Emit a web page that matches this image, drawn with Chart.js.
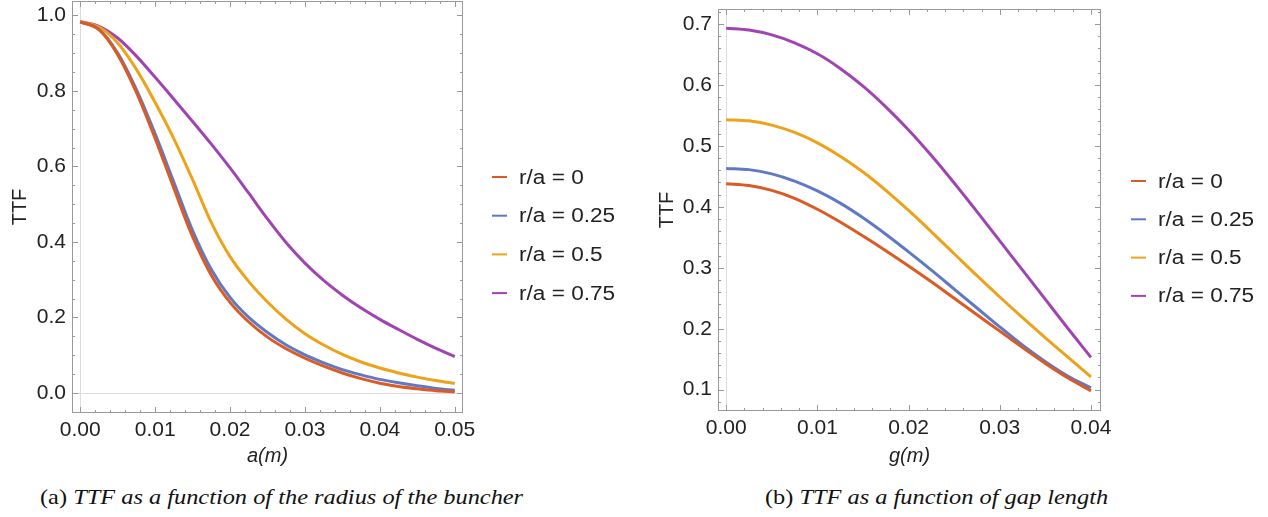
<!DOCTYPE html>
<html>
<head>
<meta charset="utf-8">
<script src="https://cdn.jsdelivr.net/npm/chart.js@4.4.1/dist/chart.umd.min.js"></script>
<style>
  body { margin: 0; background: #fff; width: 1268px; height: 517px; position: relative; overflow: hidden; }
  .box { position: absolute; top: 0; height: 470px; }
  #boxA { left: 0; width: 640px; }
  #boxB { left: 640px; width: 628px; }
  .cap { position: absolute; top: 485px; font-family: "Liberation Serif", "DejaVu Serif", serif; font-size: 21px; color: #111;
         white-space: nowrap; transform: scaleX(1.16); transform-origin: 0 0; }
</style>
</head>
<body>
<div class="box" id="boxA"><canvas id="chartA" width="640" height="470"></canvas></div>
<div class="box" id="boxB"><canvas id="chartB" width="628" height="470"></canvas></div>
<div class="cap" style="left:40px">(a) <i>TTF as a function of the radius of the buncher</i></div>
<div class="cap" style="left:765px">(b) <i>TTF as a function of gap length</i></div>
<script>
// (a) TTF vs radius a (m)
const radiusA = [0, 0.0025, 0.005, 0.0075, 0.01, 0.0125, 0.015, 0.0175, 0.02, 0.0225, 0.025,
                 0.0275, 0.03, 0.0325, 0.035, 0.0375, 0.04, 0.0425, 0.045, 0.0475, 0.05];
const ttfA_r0   = [0.983, 0.962, 0.896, 0.796, 0.674, 0.542, 0.414, 0.312, 0.240, 0.188, 0.148,
                   0.117, 0.092, 0.071, 0.053, 0.038, 0.026, 0.017, 0.011, 0.006, 0.003];
const ttfA_r025 = [0.983, 0.963, 0.900, 0.803, 0.686, 0.558, 0.430, 0.327, 0.253, 0.200, 0.160,
                   0.127, 0.101, 0.080, 0.062, 0.048, 0.036, 0.027, 0.019, 0.012, 0.007];
const ttfA_r05  = [0.983, 0.969, 0.927, 0.857, 0.769, 0.673, 0.565, 0.451, 0.361, 0.295, 0.241,
                   0.195, 0.157, 0.127, 0.102, 0.082, 0.066, 0.053, 0.042, 0.033, 0.025];
const ttfA_r075 = [0.983, 0.971, 0.940, 0.892, 0.836, 0.778, 0.719, 0.659, 0.596, 0.529, 0.461,
                   0.398, 0.344, 0.298, 0.259, 0.225, 0.195, 0.168, 0.142, 0.118, 0.096];

// (b) TTF vs gap length g (m)
const gapB = [0, 0.0025, 0.005, 0.0075, 0.01, 0.0125, 0.015, 0.0175, 0.02,
              0.0225, 0.025, 0.0275, 0.03, 0.0325, 0.035, 0.0375, 0.04];
const ttfB_r0   = [0.438, 0.435, 0.427, 0.414, 0.396, 0.375, 0.352, 0.328, 0.303,
                   0.277, 0.250, 0.223, 0.196, 0.169, 0.143, 0.119, 0.098];
const ttfB_r025 = [0.463, 0.461, 0.454, 0.442, 0.426, 0.406, 0.382, 0.355, 0.326,
                   0.296, 0.265, 0.234, 0.203, 0.173, 0.146, 0.122, 0.103];
const ttfB_r05  = [0.543, 0.541, 0.534, 0.522, 0.505, 0.483, 0.457, 0.427, 0.394,
                   0.359, 0.323, 0.287, 0.252, 0.218, 0.185, 0.153, 0.121];
const ttfB_r075 = [0.693, 0.690, 0.682, 0.669, 0.651, 0.627, 0.598, 0.564, 0.526,
                   0.484, 0.439, 0.392, 0.344, 0.296, 0.248, 0.200, 0.153];

const seriesNames = ['r/a = 0', 'r/a = 0.25', 'r/a = 0.5', 'r/a = 0.75'];
const seriesColors = ['#dc5a23', '#5f79c6', '#eda21b', '#a044b2'];

const xTicksA = [0, 0.01, 0.02, 0.03, 0.04, 0.05];
const yTicksA = [0, 0.2, 0.4, 0.6, 0.8, 1.0];
const xTicksB = [0, 0.01, 0.02, 0.03, 0.04];
const yTicksB = [0.1, 0.2, 0.3, 0.4, 0.5, 0.6, 0.7];

Chart.defaults.font.family = '"Liberation Sans", Arial, sans-serif';
Chart.defaults.color = '#222';

// frame with inward ticks (Mathematica style) and the zero axis lines
const framePlugin = {
  id: 'frame',
  beforeDatasetsDraw(chart, args, o) {
    const {ctx, chartArea: a, scales: {x, y}} = chart;
    ctx.save();
    ctx.lineWidth = 1;
    ctx.strokeStyle = '#dcdcdc';
    if (x.min <= 0 && x.max >= 0) {
      const px = Math.round(x.getPixelForValue(0)) + 0.5;
      ctx.beginPath(); ctx.moveTo(px, a.top); ctx.lineTo(px, a.bottom); ctx.stroke();
    }
    if (y.min <= 0 && y.max >= 0) {
      const py = Math.round(y.getPixelForValue(0)) + 0.5;
      ctx.beginPath(); ctx.moveTo(a.left, py); ctx.lineTo(a.right, py); ctx.stroke();
    }
    ctx.strokeStyle = '#999';
    ctx.strokeRect(a.left + 0.5, a.top + 0.5, a.width - 1, a.height - 1);
    ctx.beginPath();
    const tickX = (v, len) => {
      const px = Math.round(x.getPixelForValue(v)) + 0.5;
      ctx.moveTo(px, a.bottom); ctx.lineTo(px, a.bottom - len);
      ctx.moveTo(px, a.top); ctx.lineTo(px, a.top + len);
    };
    const tickY = (v, len) => {
      const py = Math.round(y.getPixelForValue(v)) + 0.5;
      ctx.moveTo(a.left, py); ctx.lineTo(a.left + len, py);
      ctx.moveTo(a.right, py); ctx.lineTo(a.right - len, py);
    };
    for (let i = Math.ceil(x.min / o.xMinor); i * o.xMinor <= x.max; i++) tickX(i * o.xMinor, 3);
    for (let i = Math.ceil(y.min / o.yMinor); i * o.yMinor <= y.max; i++) tickY(i * o.yMinor, 3);
    x.ticks.forEach(t => tickX(t.value, 6));
    y.ticks.forEach(t => tickY(t.value, 6));
    ctx.stroke();
    ctx.restore();
  }
};

// legend to the right of the frame: short line + label
const sideLegend = {
  id: 'sideLegend',
  afterDraw(chart, args, o) {
    const {ctx, chartArea: a} = chart;
    ctx.save();
    ctx.font = '20px "Liberation Sans", Arial, sans-serif';
    ctx.textBaseline = 'middle';
    ctx.fillStyle = '#222';
    chart.data.datasets.forEach((ds, i) => {
      const y = o.top + i * o.step;
      const x = a.right + o.dx;
      ctx.strokeStyle = ds.borderColor;
      ctx.lineWidth = 2;
      ctx.beginPath(); ctx.moveTo(x, y); ctx.lineTo(x + 15, y); ctx.stroke();
      ctx.save();
      ctx.translate(x + 27, y + 1);
      ctx.scale(1.13, 1);
      ctx.fillText(ds.label, 0, 0);
      ctx.restore();
    });
    ctx.restore();
  }
};

function makeChart(id, xs, ys, cfg) {
  const datasets = ys.map((vals, i) => ({
    label: seriesNames[i],
    data: xs.map((v, j) => ({x: v, y: vals[j]})),
    borderColor: seriesColors[i],
    backgroundColor: seriesColors[i],
    borderWidth: 3,
    pointRadius: 0,
    cubicInterpolationMode: 'monotone',
    fill: false
  }));
  return new Chart(document.getElementById(id), {
    type: 'line',
    data: {datasets},
    plugins: [framePlugin, sideLegend],
    options: {
      responsive: false,
      animation: false,
      devicePixelRatio: 1,
      layout: {padding: cfg.pad},
      scales: {
        x: {
          type: 'linear', min: cfg.xMin, max: cfg.xMax,
          afterBuildTicks: s => { s.ticks = cfg.xTicks.map(v => ({value: v})); },
          afterFit: s => { s.height = cfg.xAxisH; s.paddingLeft = 0; s.paddingRight = 0; },
          grid: {display: false, drawTicks: false},
          border: {display: false},
          ticks: {padding: 5, font: {size: 21}, color: '#222', maxRotation: 0, callback: v => v.toFixed(2)},
          title: {display: true, text: cfg.xTitle, font: {size: 20, style: 'italic'}, color: '#222', padding: {top: 0, bottom: 2}}
        },
        y: {
          type: 'linear', min: cfg.yMin, max: cfg.yMax,
          afterBuildTicks: s => { s.ticks = cfg.yTicks.map(v => ({value: v})); },
          afterFit: s => { s.width = cfg.yAxisW; s.paddingTop = 0; s.paddingBottom = 0; },
          grid: {display: false, drawTicks: false},
          border: {display: false},
          ticks: {padding: 6, font: {size: 21}, color: '#222', callback: v => v.toFixed(1)},
          title: {display: true, text: 'TTF', font: {size: 20}, color: '#222', padding: {top: cfg.yTitlePad, bottom: 0}}
        }
      },
      plugins: {
        legend: {display: false},
        tooltip: {enabled: false},
        frame: {xMinor: cfg.xMinor, yMinor: cfg.yMinor},
        sideLegend: cfg.legend
      }
    }
  });
}

makeChart('chartA', radiusA, [ttfA_r0, ttfA_r025, ttfA_r05, ttfA_r075], {
  xMin: -0.0011, xMax: 0.0511, yMin: -0.053, yMax: 1.038,
  xTicks: xTicksA, yTicks: yTicksA, xMinor: 0.002, yMinor: 0.05,
  xTitle: 'a(m)', xAxisH: 57, yAxisW: 72, yTitlePad: 8,
  pad: {top: 1, right: 177, bottom: 0, left: 0},
  legend: {top: 177, step: 38.7, dx: 29}
});

makeChart('chartB', gapB, [ttfB_r0, ttfB_r025, ttfB_r05, ttfB_r075], {
  xMin: -0.0009, xMax: 0.0411, yMin: 0.065, yMax: 0.7245,
  xTicks: xTicksB, yTicks: yTicksB, xMinor: 0.002, yMinor: 0.02,
  xTitle: 'g(m)', xAxisH: 59, yAxisW: 78, yTitlePad: 15,
  pad: {top: 9, right: 167, bottom: 0, left: 0},
  legend: {top: 181, step: 38.3, dx: 30}
});
</script>
</body>
</html>
